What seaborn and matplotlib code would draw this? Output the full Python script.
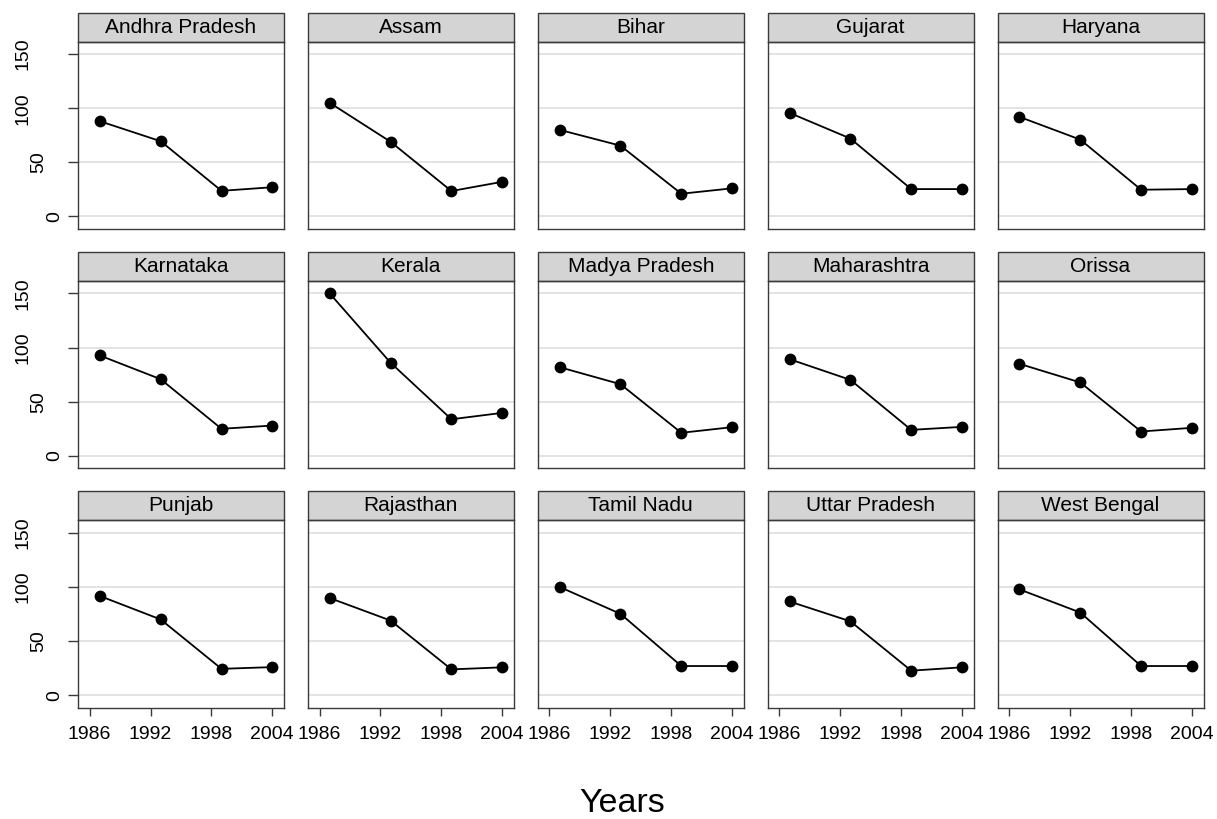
import numpy as np
import pandas as pd
import seaborn as sns
import matplotlib
matplotlib.use("Agg")
import matplotlib.pyplot as plt
from matplotlib.patches import Rectangle
from matplotlib import transforms

sns.set_theme(style="white")
plt.rcParams['font.family'] = ['Liberation Sans', 'DejaVu Sans']
plt.rcParams['text.color'] = 'black'
plt.rcParams['xtick.labelcolor'] = 'black'
plt.rcParams['ytick.labelcolor'] = 'black'

# Survey years
years = [1987, 1993, 1999, 2004]

# Panel titles, in display order
states = ["Andhra Pradesh", "Assam", "Bihar", "Gujarat", "Haryana",
          "Karnataka", "Kerala", "Madya Pradesh", "Maharashtra", "Orissa",
          "Punjab", "Rajasthan", "Tamil Nadu", "Uttar Pradesh", "West Bengal"]

# Values per state
andhra_pradesh = [88.0, 69.5, 23.7, 27.0]
assam = [105.0, 69.0, 23.5, 32.0]
bihar = [80.0, 65.4, 21.0, 26.0]
gujarat = [95.7, 72.0, 25.3, 25.3]
haryana = [92.0, 71.0, 24.7, 25.3]
karnataka = [92.7, 70.8, 25.0, 28.0]
kerala = [150.0, 86.0, 33.8, 39.7]
madya_pradesh = [81.9, 66.2, 21.3, 26.5]
maharashtra = [89.3, 70.2, 24.0, 26.8]
orissa = [85.0, 67.8, 22.5, 25.9]
punjab = [91.7, 70.0, 24.4, 26.0]
rajasthan = [89.8, 69.0, 23.9, 25.8]
tamil_nadu = [100.0, 75.2, 27.0, 27.0]
uttar_pradesh = [86.6, 68.3, 22.7, 25.8]
west_bengal = [97.8, 76.4, 27.0, 27.0]

series = [andhra_pradesh, assam, bihar, gujarat, haryana,
          karnataka, kerala, madya_pradesh, maharashtra, orissa,
          punjab, rajasthan, tamil_nadu, uttar_pradesh, west_bengal]

y_ticks = [0, 50, 100, 150]
x_ticks = [1986, 1992, 1998, 2004]

rows = []
for name, vals in zip(states, series):
    for yr, v in zip(years, vals):
        rows.append({"state": name, "year": yr, "value": v})
df = pd.DataFrame(rows)

g = sns.FacetGrid(df, col="state", col_wrap=5, col_order=states,
                  sharex=True, sharey=True, height=2.0, aspect=1.1,
                  despine=False)
g.map_dataframe(sns.lineplot, x="year", y="value", color="black",
                marker="o", markersize=8.5, markeredgewidth=0,
                linewidth=1.3)

fig = g.figure
fig.set_size_inches(12.17, 8.19)
fig.set_dpi(100)
fig.subplots_adjust(left=78 / 1217, right=1203.5 / 1217,
                    top=1 - 41.7 / 819, bottom=1 - 707.5 / 819,
                    wspace=0.1165, hspace=0.28)

frame_col = "#3a3a3a"
strip_h = 29 / 187

for i, ax in enumerate(g.axes.flat):
    r, c = divmod(i, 5)
    ax.set_title("")
    ax.set_xlabel("")
    ax.set_ylabel("")
    ax.set_xlim(1984.85, 2005.15)
    ax.set_ylim(-11.3, 161.4)
    ax.set_yticks(y_ticks)
    ax.set_xticks(x_ticks)
    ax.yaxis.grid(True, color="#e1e1e1", linewidth=1.3)
    ax.xaxis.grid(False)
    ax.set_axisbelow(True)
    for sp in ax.spines.values():
        sp.set_visible(True)
        sp.set_color(frame_col)
        sp.set_linewidth(1.0)

    ax.tick_params(axis="y", left=(c == 0), length=7, width=1,
                   color=frame_col, labelleft=False)
    if r == 2:
        ax.tick_params(axis="x", bottom=True, length=6, width=1,
                       color=frame_col, labelbottom=True,
                       labelsize=14, pad=7, labelcolor="black")
        ax.set_xticklabels([str(t) for t in x_ticks])
    else:
        ax.tick_params(axis="x", bottom=False, labelbottom=False)

    if c == 0:
        for v in y_ticks:
            s = str(v)
            off = 7 + 16 * len(s)
            tr = transforms.offset_copy(ax.get_yaxis_transform(), fig=fig,
                                        x=-off, y=0, units="dots")
            ax.text(0, v, s, transform=tr, rotation=90, ha="center",
                    va="center", rotation_mode="anchor", fontsize=14,
                    color="black")

    ax.add_patch(Rectangle((0, 1), 1, strip_h, transform=ax.transAxes,
                           clip_on=False, facecolor="#d4d4d4",
                           edgecolor=frame_col, linewidth=1.0))
    ax.text(0.5, 1 + strip_h / 2, states[i], transform=ax.transAxes,
            ha="center", va="center", fontsize=15, color="black")

fig.text(622 / 1217, 1 - 803 / 819, "Years", fontsize=24.5,
         ha="center", va="center", color="black")

fig.savefig("out.png", dpi=100, facecolor="white")
